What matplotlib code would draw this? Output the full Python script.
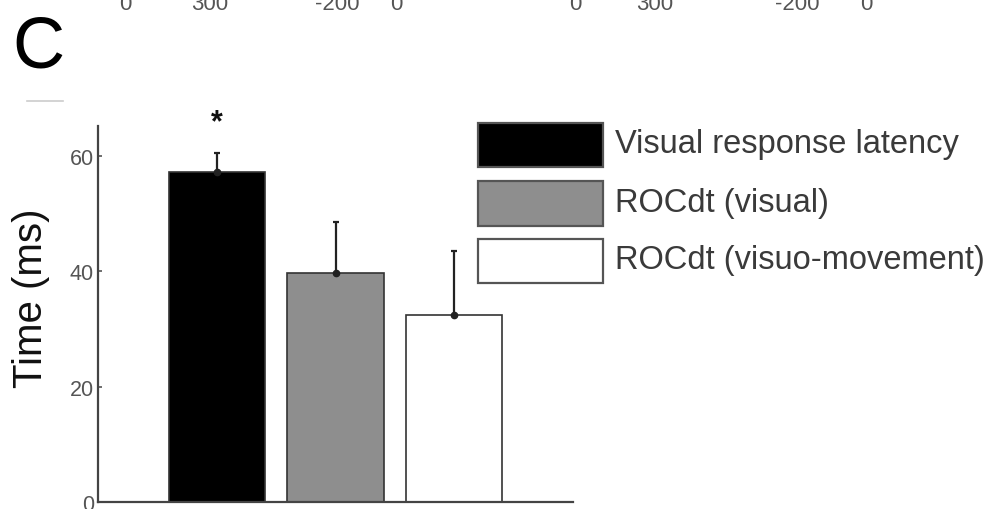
import matplotlib
matplotlib.use("Agg")
import matplotlib.pyplot as plt
from matplotlib.patches import Rectangle
from matplotlib.lines import Line2D

# ---- data ----
categories = ["Visual response latency", "ROCdt (visual)", "ROCdt (visuo-movement)"]
means = [57.2, 39.7, 32.5]
errors = [3.4, 8.8, 11.1]
fills = ["#000000", "#8e8e8e", "#ffffff"]
yticks = [0, 20, 40, 60]
top_labels = ["0", "300", "-200", "0", "0", "300", "-200", "0"]
top_label_x = [125, 210, 337, 396, 575, 655, 797, 866]

W, H = 996, 510
fig = plt.figure(figsize=(W / 100, H / 100), dpi=100)
plt.rcParams['font.family'] = ['Liberation Sans', 'DejaVu Sans']

def fx(px):
    return px / W

def fy(py):
    return 1 - py / H

ax = fig.add_axes([fx(98), fy(503), (573 - 98) / W, (503 - 127) / H])
xpos = [1, 2, 3]
ax.bar(xpos, means, width=0.81, color=fills, edgecolor="#333333", linewidth=1.2, zorder=2)
for x, m, e in zip(xpos, means, errors):
    ax.errorbar([x], [m], yerr=[[0], [e]], fmt="o", color="#222222", ms=4.5,
                elinewidth=1.6, capsize=2.5, capthick=1.6, zorder=3)
ax.text(1, means[0] + errors[0] + 5.2, "*", ha="center", va="center",
        fontsize=22, color="#111111", fontweight="bold")

ax.set_xlim(0, 4)
ax.set_ylim(0, 65.2)
ax.set_xticks([])
ax.set_yticks(yticks)
ax.set_yticklabels([str(t) for t in yticks], fontsize=15.5, color="#555555")
ax.tick_params(axis="y", direction="in", length=3, width=1.2, colors="#555555", pad=3)
for s in ["top", "right"]:
    ax.spines[s].set_visible(False)
for s in ["left", "bottom"]:
    ax.spines[s].set_color("#444444")
    ax.spines[s].set_linewidth(1.6)

# y label
fig.text(fx(31), fy(298), "Time (ms)", fontsize=29, color="#111111",
         rotation=90, ha="center", va="center")

# legend drawn manually
legend_rows = [(124, 168), (182, 227), (240, 284)]
for (y0, y1), c, lab in zip(legend_rows, fills, categories):
    fig.add_artist(Rectangle((fx(478), fy(y1)), (603 - 478) / W, (y1 - y0) / H,
                             facecolor=c, edgecolor="#555555", linewidth=1.6,
                             transform=fig.transFigure))
    fig.text(fx(615), fy((y0 + y1) / 2 - 1), lab, fontsize=23.5, color="#3a3a3a",
             ha="left", va="center")

# panel label
fig.text(fx(12), fy(49), "C", fontsize=52, color="#000000", ha="left", va="center")

# cut-off tick labels of the panel above
for lab, x in zip(top_labels, top_label_x):
    fig.text(fx(x), fy(4), lab, fontsize=16, color="#555555", ha="center", va="center")

# faint stray line
fig.add_artist(Line2D([fx(27), fx(63)], [fy(102), fy(102)], color="#cccccc",
                      linewidth=1.2, transform=fig.transFigure))

fig.savefig("out.png", dpi=100)
